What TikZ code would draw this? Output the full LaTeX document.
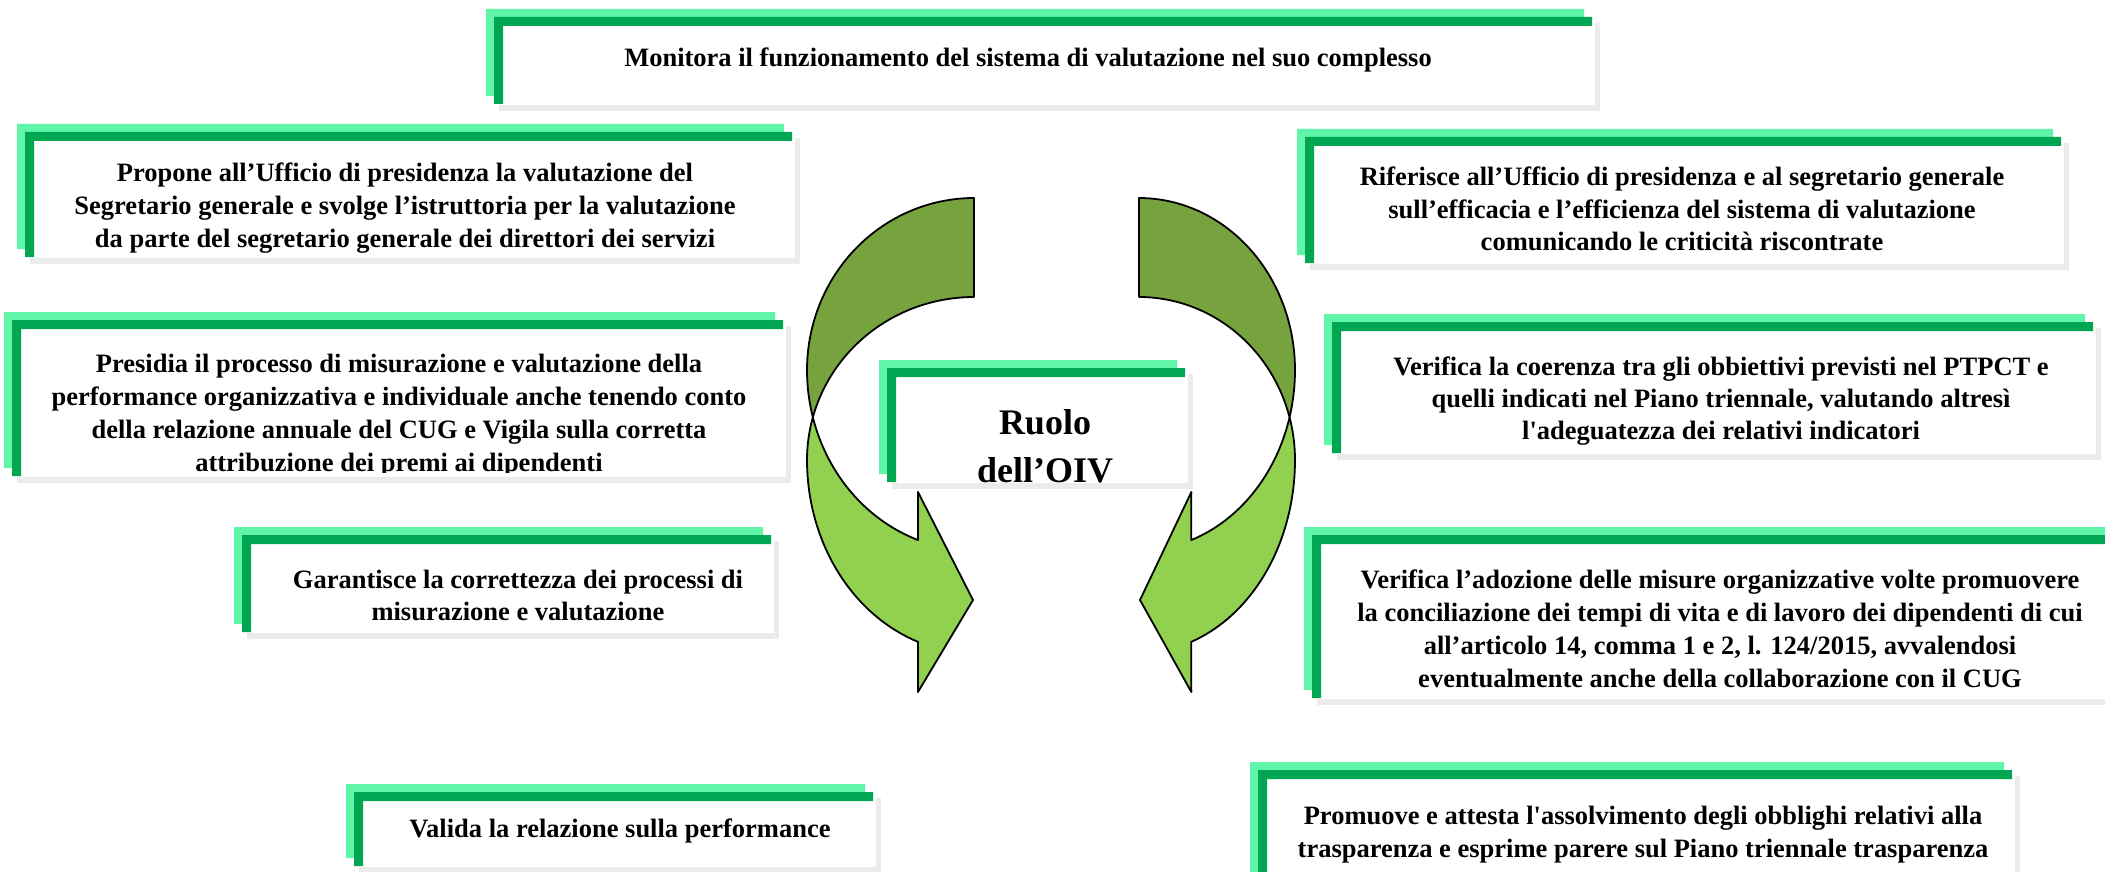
\documentclass[tikz,border=0pt]{standalone}
\usepackage{fontspec}
\setmainfont{Liberation Serif}
\definecolor{lgreen}{HTML}{60F5A8}
\definecolor{dgreen}{HTML}{00A651}
\definecolor{shadowgray}{HTML}{EBEBEB}
\definecolor{arrdark}{HTML}{77A33F}
\definecolor{arrlight}{HTML}{92D050}
% x0 y0 = outer top-left of dark frame, x1 = right end, y1 = bottom end
\newcommand{\oivbox}[4]{%
  \fill[shadowgray] (#1+5,#2+6) rectangle (#3+8,#4+7);
  \fill[white] (#1,#2) rectangle (#3+3,#4+1);
  \fill[lgreen] (#1-8,#2-8) -- (#3-8,#2-8) -- (#3-8,#2) -- (#1,#2) -- (#1,#4-8) -- (#1-8,#4-8) -- cycle;
  \fill[dgreen] (#1,#2) -- (#3,#2) -- (#3,#2+9) -- (#1+9,#2+9) -- (#1+9,#4) -- (#1,#4) -- cycle;
}
% cx rx (local coordinates, axis at 0)
\newcommand{\oivarrow}[2]{%
  \filldraw[arrowback] plot[domain=270:180,samples=45] ({#1+#2*cos(\x)},{370+172*sin(\x)})
     -- plot[domain=180:164.8,samples=10] ({#1+#2*cos(\x)},{370+180.5*sin(\x)})
     -- plot[domain=195.2:270,samples=40] ({#1+#2*cos(\x)},{460+163*sin(\x)}) -- cycle;
  \filldraw[arrowfront] plot[domain=195.2:180,samples=10] ({#1+#2*cos(\x)},{460+163*sin(\x)})
     -- plot[domain=180:109.6,samples=45] ({#1+#2*cos(\x)},{460+193*sin(\x)})
     -- ({#1-0.3355*#2},692) -- ({#1-1},600) -- ({#1-0.3355*#2},492)
     -- plot[domain=109.6:164.8,samples=35] ({#1+#2*cos(\x)},{370+180.5*sin(\x)}) -- cycle;
}
\tikzset{
  boxtext/.style={font=\bfseries\fontsize{26.5}{#1}\selectfont, align=center, inner sep=0pt, text=black},
  arrowback/.style={fill=arrdark, draw=black, line width=1.8pt, line join=round},
  arrowfront/.style={fill=arrlight, draw=black, line width=1.8pt, line join=round}
}
\begin{document}
\begin{tikzpicture}[x=1pt,y=-1pt]
\useasboundingbox (0,0) rectangle (2105,872);
\fill[white] (0,0) rectangle (2105,872);
\clip (0,0) rectangle (2105,872);

% curved arrows
\begin{scope}[shift={(1055,0)}]
  \oivarrow{-81}{167}
\end{scope}
\begin{scope}[shift={(1055,0)},xscale=-1]
  \oivarrow{-84}{156}
\end{scope}

% boxes
\oivbox{494}{17}{1592}{104}
\oivbox{25}{132}{792}{257}
\oivbox{12}{320}{783}{476}
\oivbox{242}{535}{771}{632}
\oivbox{354}{792}{873}{866}
\oivbox{887}{368}{1185}{482}
\oivbox{1305}{137}{2061}{263}
\oivbox{1332}{322}{2093}{453}
\oivbox{1312}{535}{2120}{698}
\oivbox{1258}{770}{2012}{890}

% texts
\node[boxtext=30] (mon) at (1028,60) {Monitora il funzionamento del sistema di valutazione nel suo complesso};
\node[boxtext=33] (pro) at (405,208) {Propone all’Ufficio di presidenza la valutazione del\\Segretario generale e svolge l’istruttoria per la valutazione\\da parte del segretario generale dei direttori dei servizi};
\begin{scope}
  \clip (20,330) rectangle (790,472);
  \node[boxtext=33] (pre) at (399,416) {Presidia il processo di misurazione e valutazione della\\performance organizzativa e individuale anche tenendo conto\\della relazione annuale del CUG e Vigila sulla corretta\\attribuzione dei premi ai dipendenti};
\end{scope}
\node[boxtext=32] (gar) at (518,595) {Garantisce la correttezza dei processi di\\misurazione e valutazione};
\node[boxtext=32] (val) at (620,831) {Valida la relazione sulla performance};
\node[font=\bfseries\fontsize{36}{48}\selectfont, align=center, inner sep=0pt] (oiv) at (1045,446) {Ruolo\\dell’OIV};
\node[boxtext=32.5] (rif) at (1682,209) {Riferisce all’Ufficio di presidenza e al segretario generale\\sull’efficacia e l’efficienza del sistema di valutazione\\comunicando le criticità riscontrate};
\node[boxtext=32] (ver) at (1721,401) {Verifica la coerenza tra gli obbiettivi previsti nel PTPCT e\\quelli indicati nel Piano triennale, valutando altresì\\l\textquotesingle adeguatezza dei relativi indicatori};
\begin{scope}
  \clip (1320,545) rectangle (2105,688);
  \node[boxtext=33] (ado) at (1720,629) {Verifica l’adozione delle misure organizzative volte promuovere\\la conciliazione dei tempi di vita e di lavoro dei dipendenti di cui\\all’articolo 14, comma 1 e 2, l. 124/2015, avvalendosi\\eventualmente anche della collaborazione con il CUG};
\end{scope}
\node[boxtext=33] (prm) at (1643,835) {Promuove e attesta l\textquotesingle assolvimento degli obblighi relativi alla\\trasparenza e esprime parere sul Piano triennale trasparenza};
\end{tikzpicture}
\end{document}
